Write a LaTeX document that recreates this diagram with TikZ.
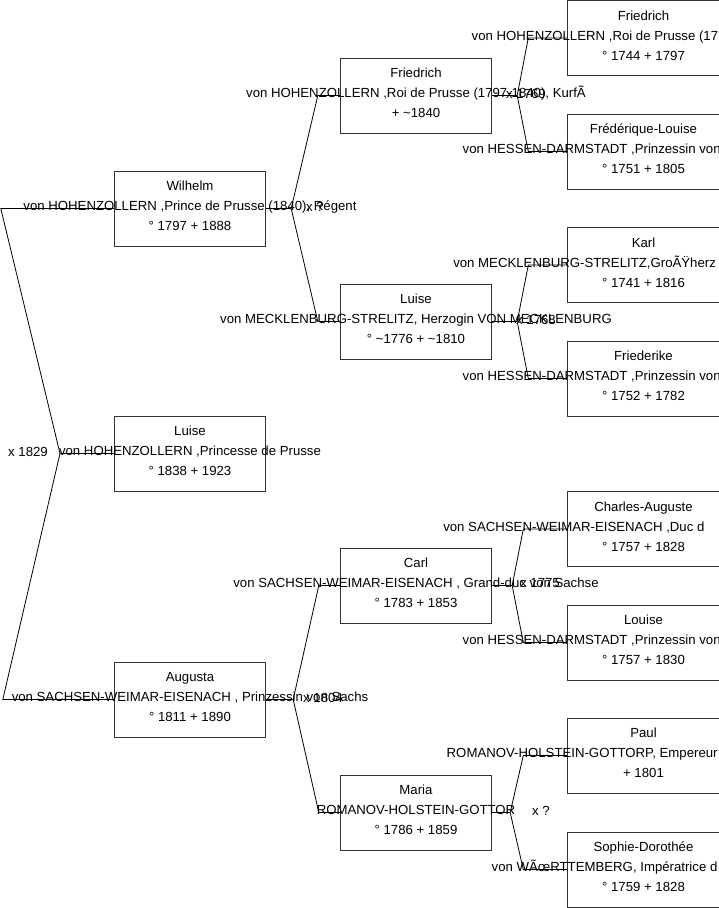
\documentclass[tikz,border=0pt]{standalone}
\usepackage{fontspec}
\setmainfont{Liberation Sans}
% text line that runs past the right edge of the page
\newcommand{\spill}[2]{\makebox[#1][l]{#2}}

\begin{document}
\begin{tikzpicture}[
    x=1pt, y=-1pt,
    every node/.style={font=\fontsize{13.2}{20}\selectfont},
    person/.style={draw=black!80, line width=0.9pt, minimum width=151.5pt, minimum height=75pt, inner sep=0pt},
    info/.style={align=center, inner sep=0pt, yshift=2.5pt},
    wed/.style={anchor=west, inner sep=0pt, yshift=2pt},
    link/.style={line width=0.8pt}
]
  \useasboundingbox (0,0) rectangle (719,908);
  \clip (0,0) rectangle (719,908);

  % Boxes, one column per generation
  \node[person] (luise)       at (190,453.5) {};
  \node[person] (wilhelm)     at (190,208.5) {};
  \node[person] (augusta)     at (190,699.5) {};
  \node[person] (friedrich)   at (416,95.5) {};
  \node[person] (luisem)      at (416,321.5) {};
  \node[person] (carl)        at (416,585.5) {};
  \node[person] (maria)       at (416,812.5) {};
  \node[person] (friedrichii) at (643.5,38) {};
  \node[person] (frederique)  at (643.5,151.5) {};
  \node[person] (karl)        at (643.5,265) {};
  \node[person] (friederike)  at (643.5,378.5) {};
  \node[person] (charles)     at (643.5,529) {};
  \node[person] (louise)      at (643.5,642.5) {};
  \node[person] (paul)        at (643.5,755.5) {};
  \node[person] (sophie)      at (643.5,869.5) {};

  % Texts
  \node[info] (luise-t)       at (luise)       {Luise\\von HOHENZOLLERN ,Princesse de Prusse\\° 1838 + 1923};
  \node[info] (wilhelm-t)     at (wilhelm)     {Wilhelm\\von HOHENZOLLERN ,Prince de Prusse (1840), Régent\\° 1797 + 1888};
  \node[info] (augusta-t)     at (augusta)     {Augusta\\von SACHSEN-WEIMAR-EISENACH , Prinzessin von Sachs\\° 1811 + 1890};
  \node[info] (friedrich-t)   at (friedrich)   {Friedrich\\von HOHENZOLLERN ,Roi de Prusse (1797-1840), Kurf\~{A}\\+ \textasciitilde 1840};
  \node[info] (luisem-t)      at (luisem)      {Luise\\von MECKLENBURG-STRELITZ, Herzogin VON MECKLENBURG\\° \textasciitilde 1776 + \textasciitilde 1810};
  \node[info] (carl-t)        at (carl)        {Carl\\von SACHSEN-WEIMAR-EISENACH , Grand-duc von Sachse\\° 1783 + 1853};
  \node[info] (maria-t)       at (maria)       {Maria\\ROMANOV-HOLSTEIN-GOTTOR\\° 1786 + 1859};
  \node[info] (friedrichii-t) at (friedrichii) {Friedrich\\\spill{343.6pt}{von HOHENZOLLERN ,Roi de Prusse (17}\\° 1744 + 1797};
  \node[info] (frederique-t)  at (frederique)  {Frédérique-Louise\\\spill{361.6pt}{von HESSEN-DARMSTADT ,Prinzessin von}\\° 1751 + 1805};
  \node[info] (karl-t)        at (karl)        {Karl\\\spill{380.4pt}{von MECKLENBURG-STRELITZ,Gro\~{A}\"{Y}herz}\\° 1741 + 1816};
  \node[info] (friederike-t)  at (friederike)  {Friederike\\\spill{361.6pt}{von HESSEN-DARMSTADT ,Prinzessin von}\\° 1752 + 1782};
  \node[info] (charles-t)     at (charles)     {Charles-Auguste\\\spill{400.4pt}{von SACHSEN-WEIMAR-EISENACH ,Duc d}\\° 1757 + 1828};
  \node[info] (louise-t)      at (louise)      {Louise\\\spill{361.6pt}{von HESSEN-DARMSTADT ,Prinzessin von}\\° 1757 + 1830};
  \node[info] (paul-t)        at (paul)        {Paul\\\spill{393.6pt}{ROMANOV-HOLSTEIN-GOTTORP, Empereur}\\+ 1801};
  \node[info] (sophie-t)      at (sophie)      {Sophie-Dorothée\\\spill{303.6pt}{von W\~{A}\oe{}RTTEMBERG, Impératrice d}\\° 1759 + 1828};

  % Marriages
  \node[wed] (x-root)      at (8,453.5)   {x 1829};
  \node[wed] (x-wilhelm)   at (306,208.5) {x ?};
  \node[wed] (x-augusta)   at (303,699.5) {x 1804};
  \node[wed] (x-friedrich) at (506,95.5)  {x 1769};
  \node[wed] (x-luisem)    at (516,321.5) {x 1768};
  \node[wed] (x-carl)      at (520,585.5) {x 1775};
  \node[wed] (x-maria)     at (532,812.5) {x ?};

  % Links to the parents
  \coordinate (j-root) at (60,453.5);
  \draw[link] (luise.west) -- (j-root);
  \draw[link] (wilhelm.west) -- ++(-113,0) -- (j-root);
  \draw[link] (augusta.west) -- ++(-111,0) -- (j-root);

  \draw[link] (wilhelm.east) -- ++(25,0) coordinate (j-wilhelm);
  \draw[link] (j-wilhelm) -- ([xshift=-22pt]friedrich.west) -- (friedrich.west);
  \draw[link] (j-wilhelm) -- ([xshift=-22pt]luisem.west) -- (luisem.west);

  \draw[link] (augusta.east) -- ++(27,0) coordinate (j-augusta);
  \draw[link] (j-augusta) -- ([xshift=-21pt]carl.west) -- (carl.west);
  \draw[link] (j-augusta) -- ([xshift=-21pt]maria.west) -- (maria.west);

  \draw[link] (friedrich.east) -- ++(25,0) coordinate (j-friedrich);
  \draw[link] (j-friedrich) -- ([xshift=-39pt]friedrichii.west) -- (friedrichii.west);
  \draw[link] (j-friedrich) -- ([xshift=-39pt]frederique.west) -- (frederique.west);

  \draw[link] (luisem.east) -- ++(25,0) coordinate (j-luisem);
  \draw[link] (j-luisem) -- ([xshift=-39pt]karl.west) -- (karl.west);
  \draw[link] (j-luisem) -- ([xshift=-39pt]friederike.west) -- (friederike.west);

  \draw[link] (carl.east) -- ++(20,0) coordinate (j-carl);
  \draw[link] (j-carl) -- ([xshift=-44pt]charles.west) -- (charles.west);
  \draw[link] (j-carl) -- ([xshift=-44pt]louise.west) -- (louise.west);

  \draw[link] (maria.east) -- ++(18,0) coordinate (j-maria);
  \draw[link] (j-maria) -- ([xshift=-44pt]paul.west) -- (paul.west);
  \draw[link] (j-maria) -- ([xshift=-44pt]sophie.west) -- (sophie.west);
\end{tikzpicture}
\end{document}
